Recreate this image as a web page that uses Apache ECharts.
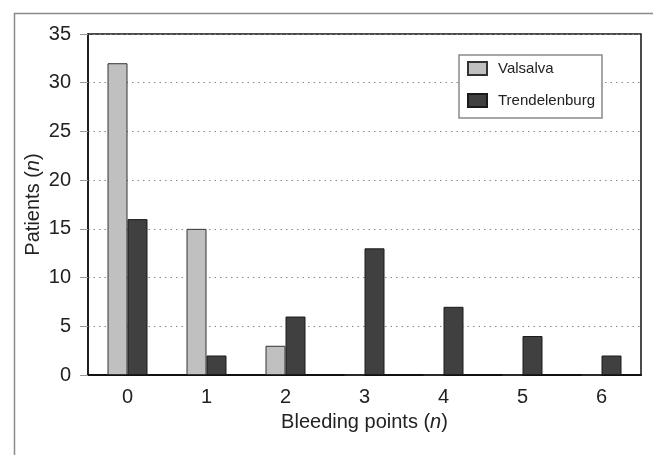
<!DOCTYPE html>
<html>
<head>
<meta charset="utf-8">
<script src="https://cdn.jsdelivr.net/npm/echarts@6/dist/echarts.min.js"></script>
<style>html,body{margin:0;padding:0;background:#fff}#c{width:653px;height:455px}</style>
</head>
<body>
<div id="c"></div>
<script>
const categories = ['0', '1', '2', '3', '4', '5', '6'];
const valsalva = [32, 15, 3, 0, 0, 0, 0];
const trendelenburg = [16, 2, 6, 13, 7, 4, 2];
const seriesNames = ['Valsalva', 'Trendelenburg'];

const FONT = 'Arial, "Liberation Sans", sans-serif';
const chart = echarts.init(document.getElementById('c'), null, {renderer: 'canvas'});
chart.setOption({
  animation: false,
  backgroundColor: '#fff',
  textStyle: {fontFamily: FONT},
  graphic: [{
    type: 'rect', left: 12, top: 11, silent: true,
    shape: {width: 700, height: 500},
    style: {fill: 'none', stroke: '#8a8a8a', lineWidth: 1.5}
  }],
  grid: {
    left: 88, top: 34, width: 553, height: 341,
    show: true, borderColor: '#111', borderWidth: 1.5, backgroundColor: 'transparent'
  },
  legend: {
    orient: 'vertical', left: 459, top: 55,
    itemWidth: 19, itemHeight: 13, itemGap: 17,
    padding: [6, 7, 10, 8],
    borderColor: '#8a8a8a', borderWidth: 1.5, backgroundColor: '#fff',
    icon: 'rect',
    textStyle: {fontSize: 15, color: '#222', fontFamily: FONT, padding: [0, 0, 0, 6]},
    data: seriesNames
  },
  xAxis: {
    type: 'category', data: categories,
    name: 'Bleeding points ({i|n})', nameLocation: 'middle', nameGap: 37,
    nameMoveOverlap: false,
    nameTextStyle: {fontSize: 20, color: '#222', fontFamily: FONT, verticalAlign: 'top',
      rich: {i: {fontStyle: 'italic', fontSize: 20, color: '#222', fontFamily: FONT}}},
    axisLine: {lineStyle: {color: '#111', width: 2}},
    axisTick: {show: false},
    axisLabel: {fontSize: 20, color: '#222', margin: 12, fontFamily: FONT}
  },
  yAxis: {
    type: 'value', min: 0, max: 35, interval: 5,
    name: 'Patients ({i|n})', nameLocation: 'middle', nameGap: 45,
    nameMoveOverlap: false,
    nameTextStyle: {fontSize: 20, color: '#222', fontFamily: FONT,
      rich: {i: {fontStyle: 'italic', fontSize: 20, color: '#222', fontFamily: FONT}}},
    axisLine: {show: true, lineStyle: {color: '#111', width: 1.5}},
    axisTick: {show: true, length: 8, lineStyle: {color: '#999', width: 1}},
    axisLabel: {fontSize: 20, color: '#222', margin: 17, fontFamily: FONT},
    splitLine: {show: true, lineStyle: {color: '#888', width: 1, type: [1.5, 4]}}
  },
  series: [
    {name: seriesNames[0], type: 'bar', data: valsalva, barWidth: 20, barGap: '0%',
     itemStyle: {color: '#c0c0c0', borderColor: '#333', borderWidth: 1}},
    {name: seriesNames[1], type: 'bar', data: trendelenburg, barWidth: 20, barGap: '0%',
     itemStyle: {color: '#404040', borderColor: '#1a1a1a', borderWidth: 1}}
  ]
});
</script>
</body>
</html>
